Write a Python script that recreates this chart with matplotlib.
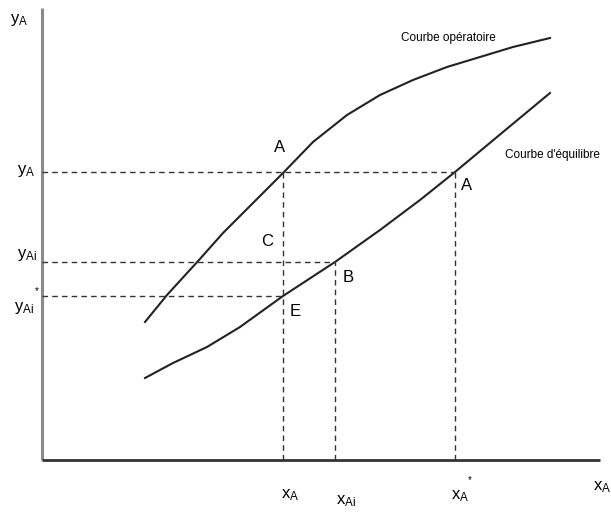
import numpy as np
import matplotlib.pyplot as plt

plt.rcParams['font.family'] = ['Liberation Sans', 'DejaVu Sans']
plt.rcParams['mathtext.fontset'] = 'custom'
plt.rcParams['mathtext.rm'] = 'Liberation Sans'
plt.rcParams['mathtext.it'] = 'Liberation Sans'

# schematic coordinates (origin at the axes corner)
op_x = [103, 125, 157, 181, 201, 221, 242, 271, 305, 338, 371, 405, 438, 471, 508]
op_y = [138, 165, 200, 227, 247, 267, 288, 318, 345, 365, 380, 393, 403, 413, 422]

eq_x = [103, 131, 165, 198, 241, 293, 338, 378, 413, 461, 508]
eq_y = [82, 97, 113, 133, 164, 198, 230, 260, 288, 328, 367]

xA, xAi, xA_star = 241, 293, 413
yA, yAi, yAi_star = 288, 198, 164

fig = plt.figure(figsize=(6.11, 5.15), dpi=100)
ax = fig.add_axes([0, 0, 1, 1])
ax.set_xlim(-42, 569)
ax.set_ylim(-55, 460)
ax.axis('off')

# axes
ax.plot([0, 0], [0, 452], color='#8a8a8a', lw=2.2, solid_capstyle='butt')
ax.plot([0, 558], [0, 0], color='#333333', lw=2.0, solid_capstyle='butt')

# curves
ax.plot(op_x, op_y, color='#222222', lw=1.5)
ax.plot(eq_x, eq_y, color='#222222', lw=1.5)

# dashed guides
ds = dict(color='#333333', lw=1.0, ls=(0, (4, 3)))
ax.plot([0, xA_star], [yA, yA], **ds)
ax.plot([0, xAi], [yAi, yAi], **ds)
ax.plot([0, xA], [yAi_star, yAi_star], **ds)
ax.plot([xA, xA], [0, yA], **ds)
ax.plot([xAi, xAi], [0, yAi], **ds)
ax.plot([xA_star, xA_star], [0, yA], **ds)

fs = 12
# axis titles
ax.text(-32, 440, r'y$_{\mathrm{A}}$', fontsize=fs, ha='left', va='center')
ax.text(551, -27, r'x$_{\mathrm{A}}$', fontsize=fs, ha='left', va='center')

# y levels
ax.text(-25, yA + 1, r'y$_{\mathrm{A}}$', fontsize=fs, ha='left', va='center')
ax.text(-25, yAi + 7, r'y$_{\mathrm{Ai}}$', fontsize=fs, ha='left', va='center')
ax.text(-28, yAi_star - 12, r'y$_{\mathrm{Ai}}$', fontsize=fs, ha='left', va='center')
ax.text(-5, yAi_star + 5, '*', fontsize=7, ha='center', va='center')

# x levels
ax.text(xA + 7, -35, r'x$_{\mathrm{A}}$', fontsize=fs, ha='center', va='center')
ax.text(xAi + 11, -41, r'x$_{\mathrm{Ai}}$', fontsize=fs, ha='center', va='center')
ax.text(xA_star + 5, -36, r'x$_{\mathrm{A}}$', fontsize=fs, ha='center', va='center')
ax.text(xA_star + 15, -20, '*', fontsize=7, ha='center', va='center')

# point labels
ax.text(xA - 3, yA + 24, 'A', fontsize=fs, ha='center', va='center')
ax.text(xA - 16, yAi + 20, 'C', fontsize=fs, ha='center', va='center')
ax.text(xAi + 13, yAi - 16, 'B', fontsize=fs, ha='center', va='center')
ax.text(xA + 12, yAi_star - 16, 'E', fontsize=fs, ha='center', va='center')
ax.text(xA_star + 12, yA - 13, 'A', fontsize=fs, ha='center', va='center')

# curve names
ax.text(406, 422, 'Courbe opératoire', fontsize=8.5, ha='center', va='center')
ax.text(510, 305, "Courbe d'équilibre", fontsize=8.5, ha='center', va='center')

fig.savefig('out.png', dpi=100)
